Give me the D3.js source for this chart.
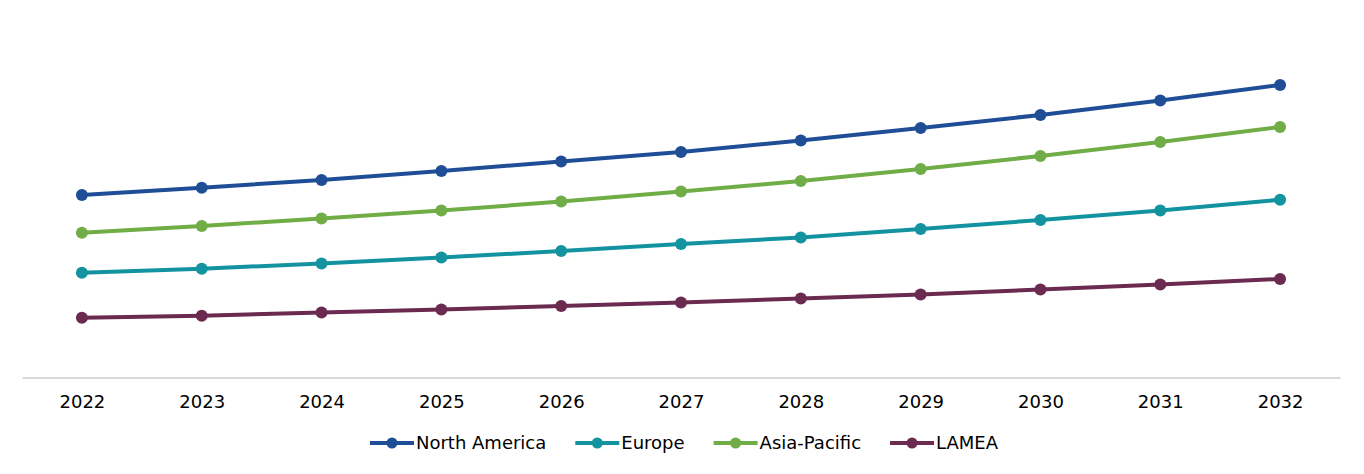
<!DOCTYPE html>
<html>
<head>
<meta charset="utf-8">
<script src="https://cdn.jsdelivr.net/npm/d3@7"></script>
<style>
  body { margin: 0; background: #fff; }
  text { font-family: Verdana, "DejaVu Sans", sans-serif; fill: #000; }
</style>
</head>
<body>
<div id="chart"></div>
<script>
// chart values (no y axis shown in the original, units are relative)
var years = ['2022', '2023', '2024', '2025', '2026', '2027', '2028', '2029', '2030', '2031', '2032'];
var northAmerica = [1789, 1861, 1936, 2025, 2118, 2211, 2324, 2446, 2574, 2716, 2868];
var europe = [1027, 1067, 1118, 1176, 1240, 1309, 1373, 1456, 1544, 1637, 1743];
var asiaPacific = [1420, 1485, 1559, 1637, 1725, 1824, 1926, 2044, 2172, 2309, 2456];
var lamea = [586, 606, 637, 667, 701, 735, 775, 814, 863, 912, 966];

var seriesNames = ['North America', 'Europe', 'Asia-Pacific', 'LAMEA'];
var seriesColors = ['#1f4e97', '#12939f', '#70ad47', '#6b2a4f'];
var seriesValues = [northAmerica, europe, asiaPacific, lamea];

var width = 1364;
var height = 474;

var svg = d3.select('#chart')
    .append('svg')
    .attr('width', width)
    .attr('height', height);

var x = d3.scalePoint()
    .domain(years)
    .range([22, 1340])
    .padding(0.5);

var y = d3.scaleLinear()
    .domain([0, 3500])
    .range([377.5, 20.5]);

// x axis: light gray baseline with year labels
var xAxis = svg.append('g')
    .attr('transform', 'translate(0,' + y(0) + ')')
    .call(d3.axisBottom(x).tickSize(0).tickPadding(18));

xAxis.select('.domain')
    .attr('stroke', '#d9d9d9')
    .attr('stroke-width', 2);

xAxis.selectAll('text')
    .attr('font-size', '18px')
    .style('font-family', 'Verdana, "DejaVu Sans", sans-serif')
    .attr('fill', '#000');

var line = d3.line()
    .x(function(d, i) { return x(years[i]); })
    .y(function(d) { return y(d); });

// draw lines with markers
seriesValues.forEach(function(vals, s) {
    var g = svg.append('g');
    g.append('path')
        .datum(vals)
        .attr('d', line)
        .attr('fill', 'none')
        .attr('stroke', seriesColors[s])
        .attr('stroke-width', 4)
        .attr('stroke-linejoin', 'round');

    g.selectAll('circle')
        .data(vals)
        .enter()
        .append('circle')
        .attr('cx', function(d, i) { return x(years[i]); })
        .attr('cy', function(d) { return y(d); })
        .attr('r', 6)
        .attr('fill', seriesColors[s]);
});

// legend
var legend = svg.append('g').attr('transform', 'translate(0,443)');
var items = legend.selectAll('g')
    .data(seriesNames)
    .enter()
    .append('g');

items.append('line')
    .attr('x1', 0).attr('x2', 44)
    .attr('y1', 0).attr('y2', 0)
    .attr('stroke', function(d, i) { return seriesColors[i]; })
    .attr('stroke-width', 4);

items.append('circle')
    .attr('cx', 22).attr('cy', 0).attr('r', 5.5)
    .attr('fill', function(d, i) { return seriesColors[i]; });

items.append('text')
    .attr('x', 46)
    .attr('y', 0)
    .attr('dy', '0.35em')
    .attr('font-size', '18px')
    .text(function(d) { return d; });

var offsets = [];
var pos = 0;
items.each(function(d, i) {
    offsets.push(pos);
    var w = 46 + d3.select(this).select('text').node().getComputedTextLength();
    pos += w + 29;
});
var total = pos - 29;
var start = 684 - total / 2;
items.attr('transform', function(d, i) { return 'translate(' + (start + offsets[i]) + ',0)'; });
</script>
</body>
</html>
